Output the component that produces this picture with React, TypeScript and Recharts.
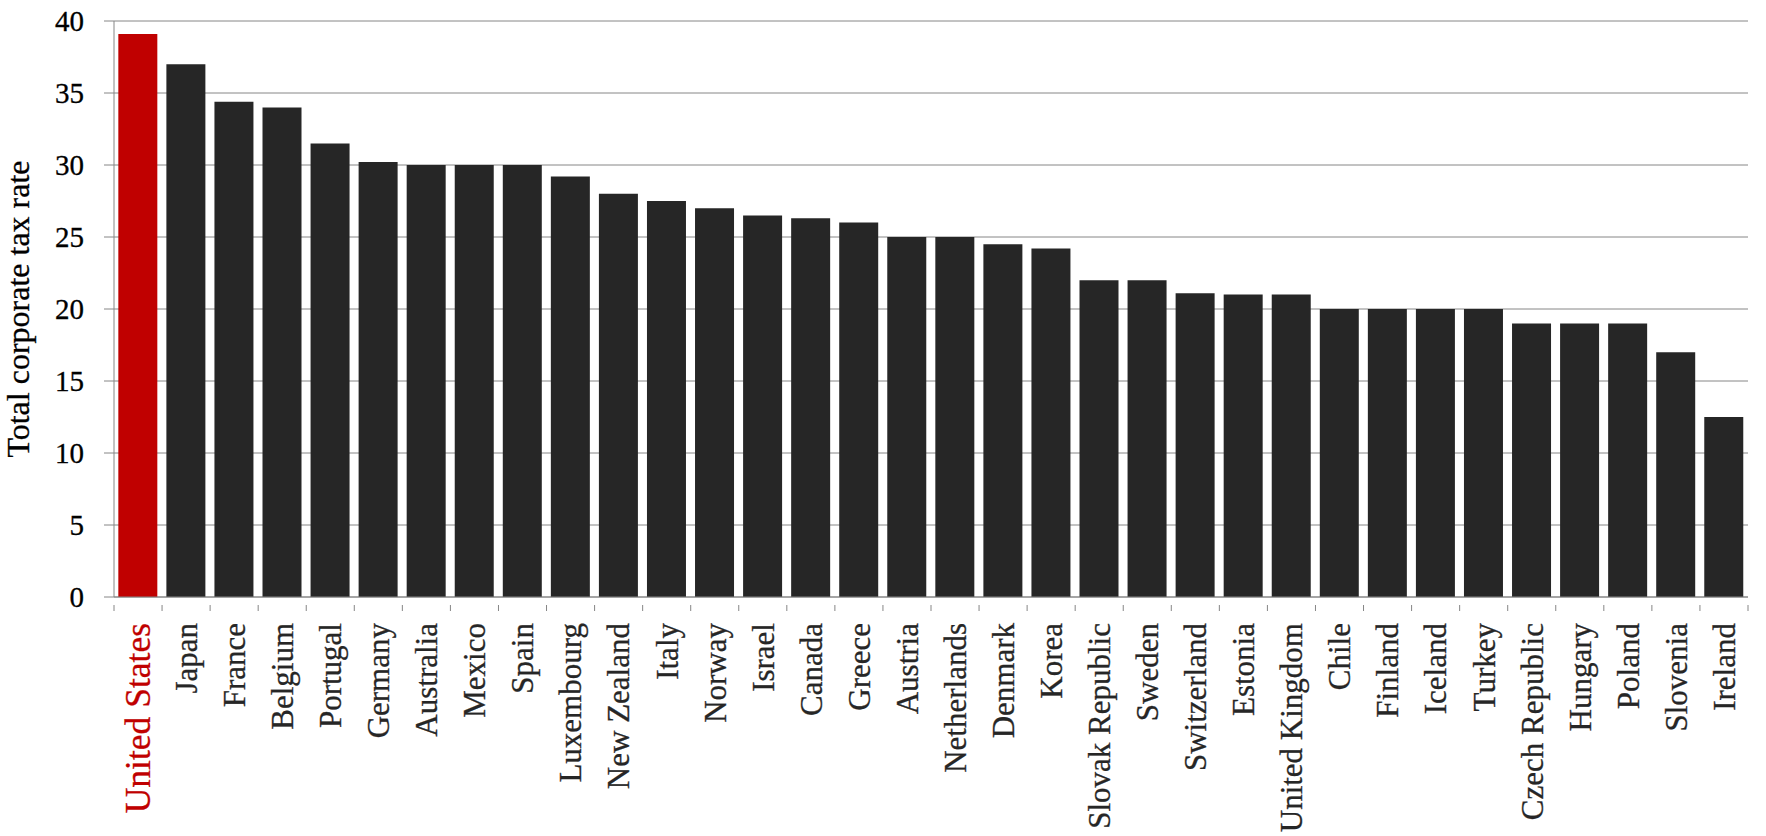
import { BarChart, Bar, XAxis, YAxis, CartesianGrid, Cell, Label } from 'recharts';

const countries = [
  'United States', 'Japan', 'France', 'Belgium', 'Portugal', 'Germany', 'Australia', 'Mexico', 'Spain',
  'Luxembourg', 'New Zealand', 'Italy', 'Norway', 'Israel', 'Canada', 'Greece', 'Austria', 'Netherlands',
  'Denmark', 'Korea', 'Slovak Republic', 'Sweden', 'Switzerland', 'Estonia', 'United Kingdom', 'Chile',
  'Finland', 'Iceland', 'Turkey', 'Czech Republic', 'Hungary', 'Poland', 'Slovenia', 'Ireland'
];

const taxRates = [
  39.1, 37.0, 34.4, 34.0, 31.5, 30.2, 30.0, 30.0, 30.0,
  29.2, 28.0, 27.5, 27.0, 26.5, 26.3, 26.0, 25.0, 25.0,
  24.5, 24.2, 22.0, 22.0, 21.1, 21.0, 21.0, 20.0,
  20.0, 20.0, 20.0, 19.0, 19.0, 19.0, 17.0, 12.5
];

const yTicks = [0, 5, 10, 15, 20, 25, 30, 35, 40];

const highlight = 'United States';

const data = countries.map((name, i) => ({ name, rate: taxRates[i] }));

const W = 1766;
const H = 836;
const AXIS_W = 114;
const RIGHT = 18;
const BAND = (W - AXIS_W - RIGHT) / countries.length;
const FONT = 'Liberation Serif';
const GRID = '#868686';

function CountryTick(props: any) {
  const { x, y, payload, index } = props;
  const isUS = payload.value === highlight;
  const left = x - BAND / 2;
  const color = isUS ? '#C00000' : '#262626';
  return (
    <g>
      <line x1={left} y1={y} x2={left} y2={y + 6} stroke={GRID} />
      {index === countries.length - 1 && (
        <line x1={x + BAND / 2} y1={y} x2={x + BAND / 2} y2={y + 6} stroke={GRID} />
      )}
      <text
        x={x}
        y={y + 18}
        transform={`rotate(-90 ${x} ${y + 18})`}
        textAnchor="end"
        dy="0.35em"
        fontFamily={FONT}
        fontSize={isUS ? 35.5 : 31}
        fill={color}
        stroke={color}
        strokeWidth={0.3}
      >
        {payload.value}
      </text>
    </g>
  );
}

function YTitle(props: any) {
  const { viewBox } = props;
  const cx = 18;
  const cy = viewBox.y + viewBox.height / 2;
  return (
    <text
      x={cx}
      y={cy}
      transform={`rotate(-90 ${cx} ${cy})`}
      textAnchor="middle"
      dy="0.35em"
      fontFamily={FONT}
      fontSize={32}
      fill="#000"
      stroke="#000"
      strokeWidth={0.3}
    >
      Total corporate tax rate
    </text>
  );
}

export default function App() {
  return (
    <div style={{ position: 'absolute', left: 0, top: 0, background: '#fff' }}>
      <BarChart
        width={W}
        height={H}
        data={data}
        margin={{ top: 21, right: RIGHT, left: 0, bottom: 0 }}
        barCategoryGap="9%"
      >
        <CartesianGrid vertical={false} stroke={GRID} />
        <XAxis
          dataKey="name"
          interval={0}
          height={239}
          axisLine={{ stroke: GRID }}
          tickLine={false}
          tick={<CountryTick />}
        />
        <YAxis
          width={AXIS_W}
          domain={[0, 40]}
          ticks={yTicks}
          axisLine={{ stroke: GRID }}
          tickLine={{ stroke: GRID }}
          tickSize={10}
          tickMargin={20}
          tick={{ fontFamily: FONT, fontSize: 29, fill: '#000', stroke: '#000', strokeWidth: 0.3 }}
        >
          <Label content={<YTitle />} />
        </YAxis>
        <Bar dataKey="rate" isAnimationActive={false}>
          {data.map((d, i) => (
            <Cell key={`cell-${i}`} fill={d.name === highlight ? '#C00000' : '#262626'} />
          ))}
        </Bar>
      </BarChart>
    </div>
  );
}
